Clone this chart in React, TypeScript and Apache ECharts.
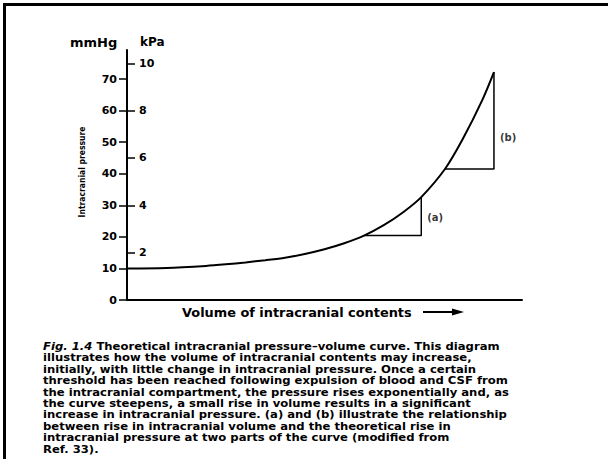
import React, { useEffect, useRef } from "react";
import * as echarts from "echarts";

// Volume of intracranial contents (arbitrary units, 0-100) and pressure (mmHg)
const vol = [0, 10, 20, 25, 30, 35, 40, 45, 50, 55, 60, 65, 70, 74.5, 80.5, 85, 90, 92.9];
const icp = [10, 10.15, 10.8, 11.3, 11.9, 12.6, 13.4, 14.6, 16.1, 18.0, 20.4, 23.7, 27.9, 32.6, 41.5, 51, 63.5, 72.2];

const mmHgTicks = [0, 10, 20, 30, 40, 50, 60, 70];
const kPaTicks = [2, 4, 6, 8, 10];

const triangleA = [[60, 20.4], [74.5, 20.4], [74.5, 32.6]];
const triangleB = [[80.5, 41.5], [92.9, 41.5], [92.9, 72.2]];
const labelPoints = [
  { name: "(a)", value: [74.5, 26.2] },
  { name: "(b)", value: [92.9, 51.5] },
];

const captionLines = [
  "{i|Fig. 1.4} Theoretical intracranial pressure\u2013volume curve. This diagram",
  "illustrates how the volume of intracranial contents may increase,",
  "initially, with little change in intracranial pressure. Once a certain",
  "threshold has been reached following expulsion of blood and CSF from",
  "the intracranial compartment, the pressure rises exponentially and, as",
  "the curve steepens, a small rise in volume results in a significant",
  "increase in intracranial pressure. (a) and (b) illustrate the relationship",
  "between rise in intracranial volume and the theoretical rise in",
  "intracranial pressure at two parts of the curve (modified from",
  "Ref. 33).",
];

const MMHG_MAX = 79.2;
const KPA_PER_MMHG = 1 / 7.5;
const FONT = "DejaVu Sans";

export default function App() {
  const ref = useRef<HTMLDivElement>(null);
  useEffect(() => {
    if (!ref.current) return;
    const chart = echarts.init(ref.current, undefined, { renderer: "svg" });
    const curve = vol.map((v, i) => [v, icp[i]]);
    chart.setOption({
      animation: false,
      backgroundColor: "#ffffff",
      grid: { left: 127, right: 86, top: 50, bottom: 159 },
      xAxis: {
        type: "value",
        min: 0,
        max: 100,
        axisLine: { show: true, lineStyle: { color: "#000", width: 2 } },
        axisTick: { show: false },
        axisLabel: { show: false },
        splitLine: { show: false },
      },
      yAxis: [
        {
          type: "value",
          min: 0,
          max: MMHG_MAX,
          interval: 10,
          position: "left",
          axisLine: { show: true, lineStyle: { color: "#000", width: 2 } },
          axisTick: {
            show: true,
            length: 8,
            customValues: mmHgTicks,
            lineStyle: { color: "#000", width: 1.5 },
          },
          axisLabel: {
            customValues: mmHgTicks,
            color: "#000",
            fontFamily: FONT,
            fontWeight: "bold",
            fontSize: 11,
            margin: 10,
          },
          splitLine: { show: false },
        },
        {
          type: "value",
          min: 0,
          max: MMHG_MAX * KPA_PER_MMHG,
          interval: 2,
          position: "left",
          offset: 0,
          axisLine: { show: false },
          axisTick: {
            show: true,
            inside: true,
            length: 8,
            customValues: kPaTicks,
            lineStyle: { color: "#000", width: 1.5 },
          },
          axisLabel: {
            inside: true,
            customValues: kPaTicks,
            color: "#000",
            fontFamily: FONT,
            fontWeight: "bold",
            fontSize: 11,
            margin: 12,
          },
          splitLine: { show: false },
        },
      ],
      series: [
        {
          type: "line",
          data: curve,
          smooth: 0.3,
          showSymbol: false,
          lineStyle: { color: "#000", width: 2 },
        },
        {
          type: "line",
          data: triangleA,
          showSymbol: false,
          lineStyle: { color: "#000", width: 1.5 },
        },
        {
          type: "line",
          data: triangleB,
          showSymbol: false,
          lineStyle: { color: "#000", width: 1.5 },
        },
        {
          type: "scatter",
          data: labelPoints,
          symbolSize: 0,
          label: {
            show: true,
            position: "right",
            distance: 6,
            formatter: (p: any) => p.name,
            color: "#000",
            fontFamily: FONT,
            fontWeight: "bold",
            fontSize: 10,
          },
        },
      ],
      graphic: [
        { type: "line", shape: { x1: 4.5, y1: 3, x2: 4.5, y2: 459 }, style: { stroke: "#000", lineWidth: 3 } },
        { type: "line", shape: { x1: 3, y1: 4.5, x2: 608, y2: 4.5 }, style: { stroke: "#000", lineWidth: 3 } },
        {
          type: "text",
          x: 70,
          y: 42,
          style: { text: "mmHg", font: `bold 13px "${FONT}"`, fill: "#000", verticalAlign: "middle" },
        },
        {
          type: "text",
          x: 140,
          y: 42,
          style: { text: "kPa", font: `bold 12px "${FONT}"`, fill: "#000", verticalAlign: "middle" },
        },
        {
          type: "text",
          x: 82,
          y: 172,
          rotation: Math.PI / 2,
          style: {
            text: "Intracranial pressure",
            font: `bold 8.5px "DejaVu Sans Condensed"`,
            fill: "#000",
            align: "center",
            verticalAlign: "middle",
          },
        },
        {
          type: "text",
          x: 182,
          y: 312,
          style: {
            text: "Volume of intracranial contents",
            font: `bold 12.9px "${FONT}"`,
            fill: "#000",
            verticalAlign: "middle",
          },
        },
        { type: "line", shape: { x1: 423, y1: 312, x2: 458, y2: 312 }, style: { stroke: "#000", lineWidth: 2 } },
        { type: "polygon", shape: { points: [[464, 312], [452, 308.5], [452, 315.5]] }, style: { fill: "#000" } },
        {
          type: "text",
          x: 43,
          y: 341,
          scaleX: 1.13,
          style: {
            text: captionLines.join("\n"),
            font: `bold 10.3px "${FONT}"`,
            fill: "#000",
            lineHeight: 11.4,
            rich: {
              i: { fontStyle: "italic", fontWeight: "bold", fontSize: 10.3, fontFamily: FONT, lineHeight: 11.4 },
            },
          },
        },
      ],
    });
    return () => chart.dispose();
  }, []);
  return (
    <div
      ref={ref}
      style={{ position: "fixed", left: 0, top: 0, width: 608, height: 459, background: "#fff" }}
    />
  );
}
